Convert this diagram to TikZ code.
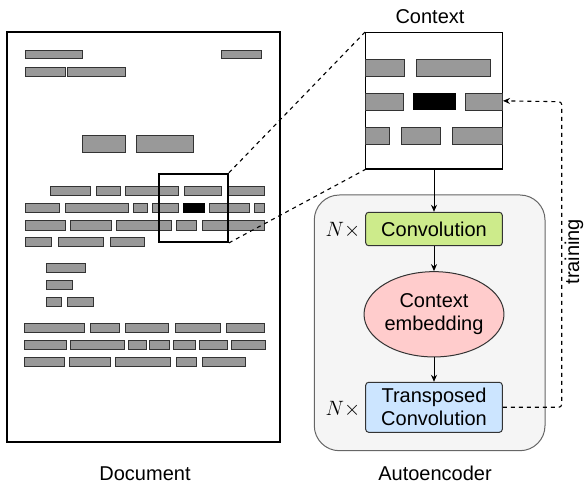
\documentclass[tikz,border=0pt]{standalone}
\usepackage{fontspec}
\setmainfont{Liberation Sans}
\usetikzlibrary{shapes.geometric}
\usetikzlibrary{arrows.meta}
\definecolor{barGray}{HTML}{999999}
\definecolor{convGreen}{HTML}{CDEB8B}
\definecolor{embRed}{HTML}{FFCCCC}
\definecolor{tconvBlue}{HTML}{CCE5FF}
\definecolor{aeGray}{HTML}{F5F5F5}
\newcommand{\drawBar}[4]{
   	\draw[fill=barGray, draw=black!80, line width=0.8pt] (#1,#2) rectangle (#3,#4) ;   
}
\newcommand{\drawRow}[3]{
	\foreach \a/\b in {#3}
	{
		\drawBar{\a}{#1}{\b}{#2}
	}
}

\begin{document}
\begin{tikzpicture}[x=1pt, y=-1pt, font=\fontsize{20}{23}\selectfont,
	block/.style={draw=black!80, line width=1pt, rounded corners=3pt, minimum width=136.6pt, inner sep=0pt, align=center},
	flow/.style={-{Stealth[length=7pt, width=6pt]}, line width=1pt},
	zoomline/.style={dashed, dash pattern=on 4pt off 4pt, line width=1.1pt}]
%%%%%%%%%%%%%%%%%%	
\useasboundingbox (0,0) rectangle (584,486);

%Document page
	\node[draw, line width=1.3pt, minimum width=273pt, minimum height=410pt, inner sep=0pt] (page) at (143.5,237) {};
	\node (doclabel) at (145,474) {Document};

%Text lines of the page
	\drawRow{50.7}{58.7}{25.3/82.7, 221.7/261.3}
	\drawRow{67.7}{76}{25.3/65.7, 67.7/125.3}
	\drawRow{135.3}{152.7}{82.3/125.3, 136/193.3}
	\drawRow{186}{195.3}{50.7/90.7, 96.7/120.7, 125.7/178.3, 184.3/221.7, 228.3/264.3}
	\drawRow{203.3}{212.7}{25.3/59.7, 65.3/128.3, 133.7/147, 152.3/178, 209.3/249.3, 254.3/264.3}
	\fill[black] (182.7,203.3) rectangle (204.7,212.7);
	\drawRow{220.7}{230}{25.3/65.3, 70.7/111.3, 116.3/171.3, 176.7/196.7, 202.3/264.3}
	\drawRow{237.7}{246.7}{25.3/51, 58.3/103, 110/144.7}
	\drawRow{263.3}{272}{46.3/85.3}
	\drawRow{280.3}{289}{46.3/72.3}
	\drawRow{297.3}{306}{46.3/61.3, 67.7/93.7}
	\drawRow{323}{332}{24/84.3, 90/119.7, 125.3/168.3, 175.3/220.7, 226.3/264.3}
	\drawRow{340}{349}{24/66, 70.7/124.7, 128.7/146, 149.3/169.7, 173.7/195.7, 199.3/227.3, 231.3/265.3}
	\drawRow{357}{366}{24/64.7, 69.7/110.3, 115.3/170.3, 176/196, 202/245.3}

%Zoom window and context
	\node[draw, line width=1.8pt, minimum width=68.7pt, minimum height=68.3pt, inner sep=0pt] (zoom) at (193.65,207.85) {};
	\node[draw, line width=1.3pt, minimum width=136.6pt, minimum height=136.3pt, inner sep=0pt] (ctx) at (434,100.85) {};
	\node (ctxlabel) at (430,17) {Context};
	\drawRow{59}{76}{365.7/404.7, 416.3/490.3}
	\drawRow{93}{110.3}{365.7/403, 465.7/502.3}
	\fill[black] (413,93) rectangle (456,110.3);
	\drawRow{127}{144.3}{365.7/389.3, 401/440.3, 452.3/502.3}
	\draw[zoomline] (zoom.north east) -- (ctx.north west);
	\draw[zoomline] (zoom.south east) -- (ctx.south west);

%Autoencoder
	\node[draw=black!60, fill=aeGray, line width=1pt, rounded corners=25pt, minimum width=230.7pt, minimum height=255.7pt] (ae) at (429.65,322.85) {};
	\node (aelabel) at (435,473) {Autoencoder};
	\node[block, fill=convGreen, minimum height=33.4pt] (conv) at (434,229) {Convolution};
	\node[draw=black!80, fill=embRed, line width=1pt, ellipse, minimum width=136.6pt, minimum height=85.3pt, inner sep=0pt, align=center] (emb) at (434,314.3) {Context\\embedding};
	\node[block, fill=tconvBlue, minimum height=50pt] (tconv) at (434,407.3) {Transposed\\Convolution};
	\node (nconv) at (343,230) {$N\times$};
	\node (ntconv) at (343,409) {$N\times$};

% Connect the blocks
	\draw[flow] (ctx.south) -- (conv.north);
	\draw[flow] (conv.south) -- (emb.north);
	\draw[flow] (emb.south) -- (tconv.north);

%Training loop
	\coordinate (turn) at (561.7,101.7);
	\draw[zoomline, rounded corners=3pt, -{Stealth[length=7pt, width=6pt]}] (tconv.east) -| (turn) -- (ctx.east);
	\node[rotate=90, inner sep=0pt] (trainlabel) at (574,251.7) {training};
    
\end{tikzpicture}
\end{document}
